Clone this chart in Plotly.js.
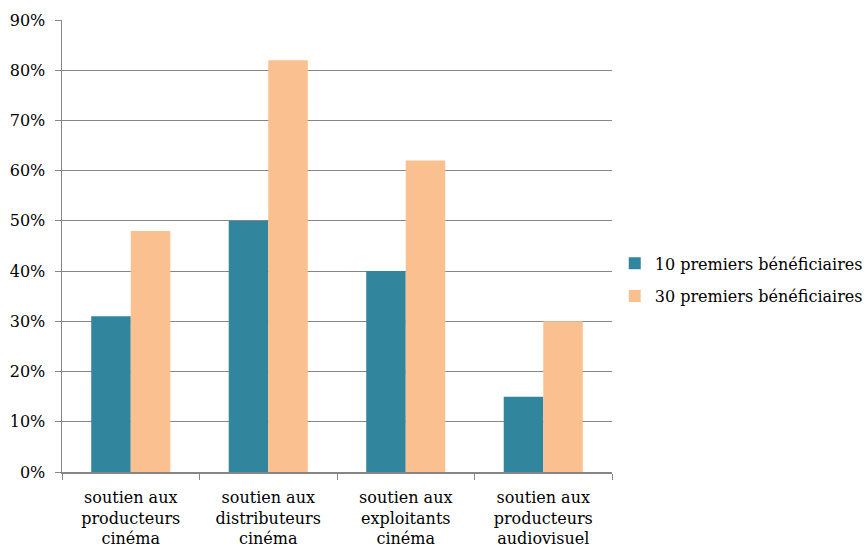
<!DOCTYPE html>
<html><head><meta charset="utf-8">
<script src="https://cdn.plot.ly/plotly-3.0.1.min.js"></script>
<style>html,body{margin:0;padding:0;background:#fff}#chart{width:866px;height:550px}</style>
</head><body><div id="chart"></div>
<script>
const categories = ["soutien aux<br>producteurs<br>cinéma","soutien aux<br>distributeurs<br>cinéma","soutien aux<br>exploitants<br>cinéma","soutien aux<br>producteurs<br>audiovisuel"];
const series1Name = "10 premiers bénéficiaires";
const series1 = [31, 50, 40, 15];
const series2Name = "30 premiers bénéficiaires";
const series2 = [48, 82, 62, 30];

const font = "DejaVu Serif";
const data = [
  {type:'bar', x:categories, y:series1, name:series1Name, legendgroup:'a', marker:{color:'#31859C'}, hoverinfo:'none'},
  {type:'bar', x:categories, y:series2, name:series2Name, legendgroup:'b', marker:{color:'#FAC090'}, hoverinfo:'none'}
];
const layout = {
  width:866, height:550,
  margin:{l:62, r:254, t:20, b:78, autoexpand:false},
  paper_bgcolor:'#fff', plot_bgcolor:'#fff',
  font:{family:font, size:16, color:'#000'},
  barmode:'group', bargap:0.425, bargroupgap:0,
  xaxis:{showline:true, linecolor:'#868686', linewidth:1.5, ticks:'outside', tickson:'boundaries', ticklen:6, tickcolor:'#868686', showgrid:false, tickfont:{size:16, family:font}, ticklabelstandoff:10, automargin:false, fixedrange:true},
  yaxis:{range:[0,90], dtick:10, ticksuffix:'%', showline:true, linecolor:'#868686', linewidth:1.5, ticks:'outside', ticklen:6, tickcolor:'#868686', gridcolor:'#868686', gridwidth:1, zeroline:false, tickfont:{size:16, family:font}, ticklabelstandoff:6, automargin:false, fixedrange:true},
  legend:{x:1.005, xanchor:'left', y:0.425, yanchor:'middle', font:{size:16, family:font}, itemwidth:30, traceorder:'grouped', tracegroupgap:9},
  showlegend:true
};
Plotly.newPlot('chart', data, layout, {displayModeBar:false, staticPlot:true});
</script></body></html>
